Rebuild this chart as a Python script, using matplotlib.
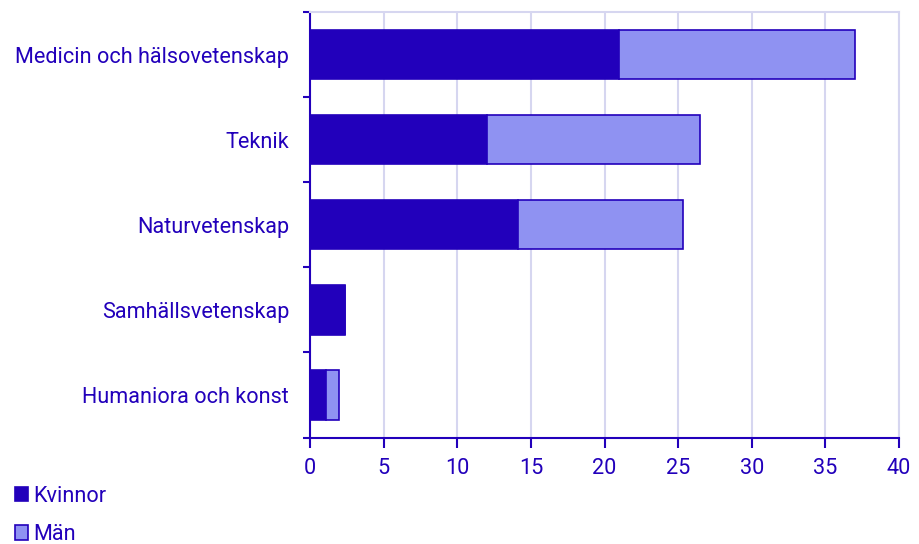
import numpy as np
import matplotlib.pyplot as plt

plt.rcParams['font.family'] = ['Roboto', 'DejaVu Sans']

# Antal per forskningsområde, kvinnor och män
omraden = ['Medicin och hälsovetenskap', 'Teknik', 'Naturvetenskap',
           'Samhällsvetenskap', 'Humaniora och konst']
kvinnor = [21.0, 12.0, 14.1, 2.4, 1.1]
man = [16.0, 14.5, 11.2, 0.0, 0.9]
x_ticks = [0, 5, 10, 15, 20, 25, 30, 35, 40]

dark = '#2200BB'
light = '#8F92F2'
grid = '#D6D6F0'
fs = 15.6

fig = plt.figure(figsize=(9.2, 5.44), dpi=100)
ax = fig.add_axes([310 / 920, 1 - 437.5 / 544, 589 / 920, 425.5 / 544])

y = np.arange(len(omraden))
ax.barh(y, kvinnor, height=0.58, color=dark, edgecolor=dark, linewidth=1.2,
        label='Kvinnor', zorder=3)
ax.barh(y, man, left=kvinnor, height=0.58, color=light, edgecolor=dark,
        linewidth=1.2, label='Män', zorder=3)

ax.set_xlim(0, 40)
ax.set_ylim(4.5, -0.5)
ax.set_xticks(x_ticks)
ax.xaxis.grid(True, color=grid, linewidth=1.5, zorder=0)

# category borders as ticks, names centred between them
ax.set_yticks(np.arange(-0.5, len(omraden), 1.0))
ax.set_yticklabels([])
ax.set_yticks(y, minor=True)
ax.set_yticklabels(omraden, minor=True)
ax.tick_params(axis='y', which='major', length=5, width=1.5, color=dark)
ax.tick_params(axis='y', which='minor', length=0, pad=15, labelsize=fs,
               labelcolor=dark)
ax.tick_params(axis='x', length=7, width=1.5, color=dark, pad=8,
               labelsize=fs, labelcolor=dark)

for side in ['left', 'bottom']:
    ax.spines[side].set_color(dark)
    ax.spines[side].set_linewidth(1.5)
for side in ['top', 'right']:
    ax.spines[side].set_color(grid)
    ax.spines[side].set_linewidth(1.5)

fig.legend(loc='upper left', bbox_to_anchor=(0.016, 0.107), frameon=False,
           fontsize=fs, labelcolor=dark, handlelength=0.62, handleheight=0.62,
           handletextpad=0.25, labelspacing=0.8, borderaxespad=0, borderpad=0)

fig.savefig('out.png', dpi=100)
